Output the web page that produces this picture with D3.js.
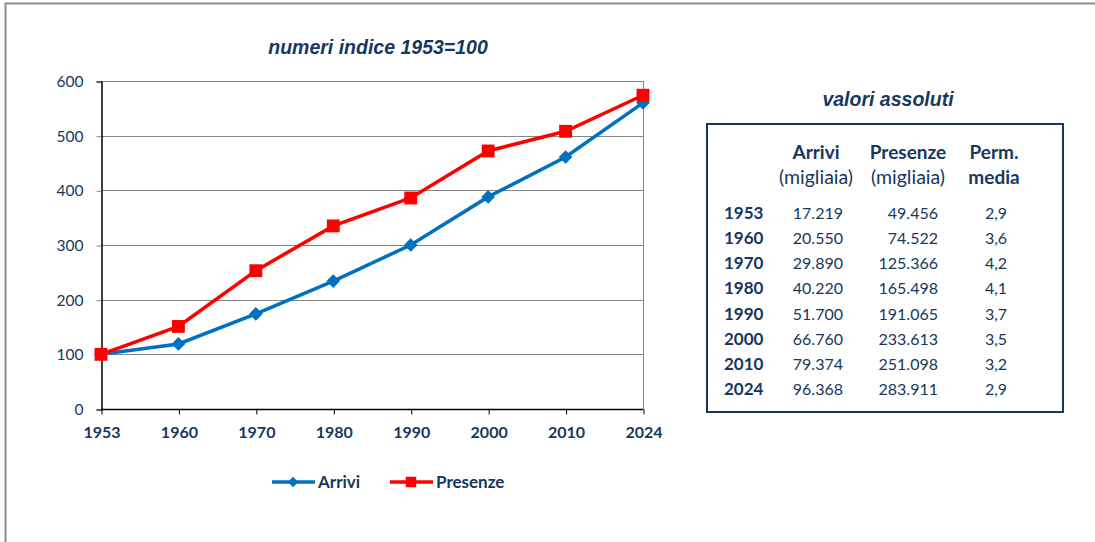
<!DOCTYPE html>
<html>
<head>
<meta charset="utf-8">
<script src="https://cdn.jsdelivr.net/npm/d3@7"></script>
<style>
  body { margin: 0; background: #fff; }
  svg { display: block; }
  text { fill: #17375E; }
</style>
</head>
<body>
<svg id="chart" width="1095" height="542"></svg>
<script>
// categories and series (index 1953 = 100)
var years = ["1953", "1960", "1970", "1980", "1990", "2000", "2010", "2024"];
var arrivi = [100, 119, 174, 234, 300, 388, 461, 560];
var presenze = [100, 151, 253, 335, 386, 472, 508, 574];
var yTicks = [0, 100, 200, 300, 400, 500, 600];

// table of absolute values
var tabArrivi = ["17.219", "20.550", "29.890", "40.220", "51.700", "66.760", "79.374", "96.368"];
var tabPresenze = ["49.456", "74.522", "125.366", "165.498", "191.065", "233.613", "251.098", "283.911"];
var tabPerm = ["2,9", "3,6", "4,2", "4,1", "3,7", "3,5", "3,2", "2,9"];

var navy = "#17375E",
  blue = "#0070C0",
  red = "#FF0000";

var svg = d3.select("#chart");

// outer frame (top and left edge only visible)
svg.append("path")
  .attr("d", "M5.5,542V3.5H1095")
  .attr("fill", "none")
  .attr("stroke", "#8c8c8c")
  .attr("stroke-width", 2);

var x = d3.scalePoint()
  .domain(years)
  .range([101, 643]);

var y = d3.scaleLinear()
  .domain([0, 600])
  .range([409, 81]);

// gridlines
svg.append("g").selectAll("line")
  .data(yTicks.filter(d => d > 0))
  .enter().append("line")
  .attr("x1", x.range()[0])
  .attr("x2", x.range()[1])
  .attr("y1", d => Math.round(y(d)) + 0.5)
  .attr("y2", d => Math.round(y(d)) + 0.5)
  .attr("stroke", "#868686")
  .attr("stroke-width", 1);

// right border of plot area
svg.append("line")
  .attr("x1", 643.5).attr("x2", 643.5)
  .attr("y1", y(600)).attr("y2", y(0))
  .attr("stroke", "#868686");

// y axis
var yAxis = d3.axisLeft(y).tickValues(yTicks).tickSize(5).tickPadding(13);
var gy = svg.append("g")
  .attr("transform", "translate(101.5,0.5)")
  .call(yAxis);
gy.select(".domain").attr("stroke", "#000").attr("stroke-width", 1.5);
gy.selectAll(".tick line").attr("stroke", "#868686");
gy.selectAll(".tick text")
  .style("font-family", "Lato, sans-serif")
  .style("font-size", "15.5px")
  .attr("fill", navy);

// x axis
var xAxis = d3.axisBottom(x).tickSize(5).tickPadding(12);
var gx = svg.append("g")
  .attr("transform", "translate(0.5,409.5)")
  .call(xAxis);
gx.select(".domain").attr("d", "M" + x.range()[0] + ",0H" + x.range()[1]).attr("stroke", "#000").attr("stroke-width", 1.5);
gx.selectAll(".tick line").attr("stroke", "#000");
gx.selectAll(".tick text")
  .style("font-family", "Lato, sans-serif")
  .style("font-size", "16px")
  .style("font-weight", "bold")
  .attr("fill", navy);

// title
svg.append("text")
  .attr("x", 378)
  .attr("y", 54)
  .attr("text-anchor", "middle")
  .style("font-family", "'Liberation Sans', Arial, sans-serif")
  .style("font-size", "19.5px")
  .style("font-weight", "bold")
  .style("font-style", "italic")
  .text("numeri indice 1953=100");

// lines
var line = d3.line()
  .x((d, i) => x(years[i]))
  .y(d => y(d));

svg.append("path")
  .datum(arrivi)
  .attr("d", line)
  .attr("fill", "none")
  .attr("stroke", blue)
  .attr("stroke-width", 3.5);

svg.append("path")
  .datum(presenze)
  .attr("d", line)
  .attr("fill", "none")
  .attr("stroke", red)
  .attr("stroke-width", 3.5);

var diamond = d3.symbol().type(d3.symbolDiamond2).size(120);
var square = d3.symbol().type(d3.symbolSquare).size(165);

svg.append("g").selectAll("path")
  .data(arrivi)
  .enter().append("path")
  .attr("d", diamond)
  .attr("transform", (d, i) => "translate(" + x(years[i]) + "," + y(d) + ")")
  .attr("fill", blue);

svg.append("g").selectAll("path")
  .data(presenze)
  .enter().append("path")
  .attr("d", square)
  .attr("transform", (d, i) => "translate(" + x(years[i]) + "," + y(d) + ")")
  .attr("fill", red);

// legend
var legend = [
  { name: "Arrivi", color: blue, sym: d3.symbol().type(d3.symbolDiamond2).size(70), x: 272 },
  { name: "Presenze", color: red, sym: d3.symbol().type(d3.symbolSquare).size(110), x: 390 }
];
var lg = svg.append("g").selectAll("g")
  .data(legend)
  .enter().append("g")
  .attr("transform", d => "translate(" + d.x + ",482)");
lg.append("line")
  .attr("x1", 0).attr("x2", 43)
  .attr("stroke", d => d.color)
  .attr("stroke-width", 3.5);
lg.append("path")
  .attr("d", d => d.sym())
  .attr("transform", "translate(21,0)")
  .attr("fill", d => d.color);
lg.append("text")
  .attr("x", 46)
  .attr("dy", "0.35em")
  .style("font-family", "Lato, sans-serif")
  .style("font-size", "17px")
  .style("font-weight", "bold")
  .text(d => d.name);

// table of absolute values
svg.append("text")
  .attr("x", 888)
  .attr("y", 106)
  .attr("text-anchor", "middle")
  .style("font-family", "'Liberation Sans', Arial, sans-serif")
  .style("font-size", "19.5px")
  .style("font-weight", "bold")
  .style("font-style", "italic")
  .text("valori assoluti");

svg.append("rect")
  .attr("x", 707)
  .attr("y", 124)
  .attr("width", 356)
  .attr("height", 288)
  .attr("fill", "none")
  .attr("stroke", navy)
  .attr("stroke-width", 2);

var tfont = "Lato, sans-serif";
var heads = [
  { t1: "Arrivi", t2: "(migliaia)", cx: 816, bold2: false },
  { t1: "Presenze", t2: "(migliaia)", cx: 908, bold2: false },
  { t1: "Perm.", t2: "media", cx: 994, bold2: true }
];
var hg = svg.append("g").selectAll("g")
  .data(heads)
  .enter().append("g");
hg.append("text")
  .attr("x", d => d.cx)
  .attr("y", 159)
  .attr("text-anchor", "middle")
  .style("font-family", tfont)
  .style("font-size", "19px")
  .style("font-weight", "bold")
  .text(d => d.t1);
hg.append("text")
  .attr("x", d => d.cx)
  .attr("y", 184)
  .attr("text-anchor", "middle")
  .style("font-family", tfont)
  .style("font-size", d => d.bold2 ? "19px" : "19.5px")
  .style("font-weight", d => d.bold2 ? "bold" : "normal")
  .text(d => d.t2);

var rowY = d3.scalePoint()
  .domain(years)
  .range([219, 395]);

var rows = svg.append("g").selectAll("g")
  .data(years)
  .enter().append("g")
  .attr("transform", d => "translate(0," + rowY(d) + ")")
  .style("font-family", tfont)
  .style("font-size", "16px");
rows.append("text")
  .attr("x", 724)
  .style("font-weight", "bold")
  .style("font-size", "17px")
  .text(d => d);
rows.append("text")
  .attr("x", 843)
  .attr("text-anchor", "end")
  .text((d, i) => tabArrivi[i]);
rows.append("text")
  .attr("x", 938)
  .attr("text-anchor", "end")
  .text((d, i) => tabPresenze[i]);
rows.append("text")
  .attr("x", 996)
  .attr("text-anchor", "middle")
  .text((d, i) => tabPerm[i]);
</script>
</body>
</html>
